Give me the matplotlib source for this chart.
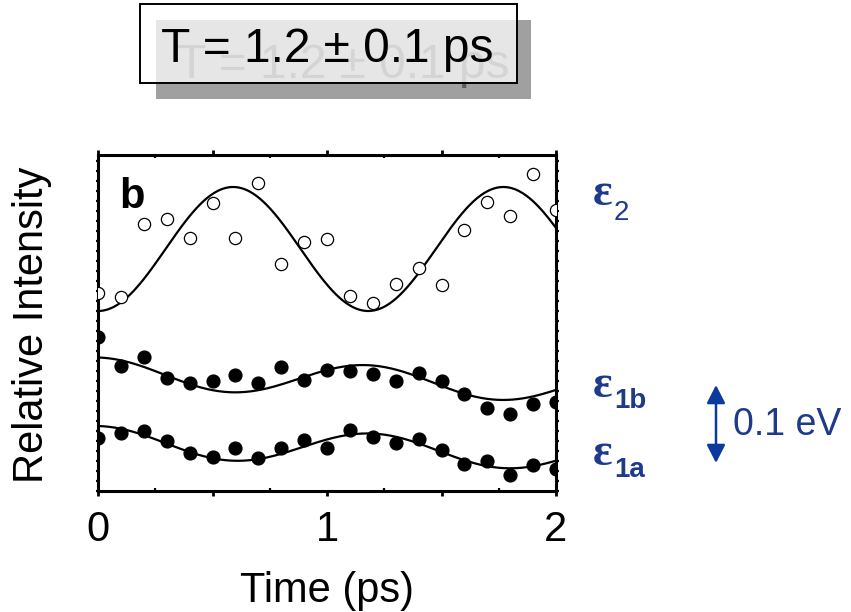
import numpy as np
import matplotlib
matplotlib.use("Agg")
import matplotlib.pyplot as plt
from matplotlib.patches import Rectangle, FancyArrowPatch
from matplotlib.ticker import MultipleLocator, FixedLocator

plt.rcParams['font.family'] = ['Liberation Sans', 'DejaVu Sans']

# ---------------- data ----------------
time_ps = [0.0, 0.1, 0.2, 0.3, 0.4, 0.5, 0.6, 0.7, 0.8, 0.9, 1.0,
           1.1, 1.2, 1.3, 1.4, 1.5, 1.6, 1.7, 1.8, 1.9, 2.0]

eps2 = [1.98, 1.94, 2.67, 2.72, 2.53, 2.88, 2.53, 3.08, 2.27, 2.49, 2.52,
        1.95, 1.88, 2.07, 2.23, 2.06, 2.61, 2.89, 2.75, 3.17, 2.81]

eps1b = [1.54, 1.25, 1.34, 1.13, 1.08, 1.10, 1.16, 1.08, 1.24, 1.11, 1.21,
         1.20, 1.17, 1.10, 1.18, 1.10, 0.97, 0.83, 0.77, 0.87, 0.89]

eps1a = [0.53, 0.58, 0.60, 0.50, 0.38, 0.34, 0.43, 0.33, 0.43, 0.51, 0.43,
         0.61, 0.54, 0.48, 0.52, 0.41, 0.27, 0.30, 0.16, 0.26, 0.22]

# fitted cosine models: offset, linear slope, amplitude, period (ps), time of maximum (ps)
fit_eps2 = [2.42, 0.0, 0.62, 1.18, 0.59]
fit_eps1b = [1.18, -0.065, 0.155, 1.17, 0.0]
fit_eps1a = [0.495, -0.063, 0.155, 1.19, 0.0]

xtick_major = [0.0, 0.5, 1.0, 1.5, 2.0]
xtick_labels = ['0', '', '1', '', '2']
title_text = "T = 1.2 \u00b1 0.1 ps"
x_label = "Time (ps)"
y_label = "Relative Intensity"

# ---------------- figure ----------------
W, H = 851, 612
fig = plt.figure(figsize=(W / 100, H / 100), dpi=100)


def P(x, y):
    return (x / W, 1 - y / H)


L, R, T, B = 98, 556, 155, 491
ax = fig.add_axes([L / W, 1 - B / H, (R - L) / W, (B - T) / H])


def model(p, t):
    off, slope, amp, per, tmax = p
    return off + slope * t + amp * np.cos(2 * np.pi * (t - tmax) / per)


tt = np.linspace(0, 2, 400)
for p in (fit_eps2, fit_eps1b, fit_eps1a):
    ax.plot(tt, model(p, tt), color='black', lw=1.6, zorder=2)

ax.plot(time_ps, eps2, 'o', ms=8.8, mfc='white', mec='black', mew=0.9, zorder=3)
ax.plot(time_ps, eps1b, 'o', ms=9.2, mfc='black', mec='black', zorder=3)
ax.plot(time_ps, eps1a, 'o', ms=9.2, mfc='black', mec='black', zorder=3)

ax.set_xlim(0, 2)
ax.set_ylim(0, 3.36)
ax.xaxis.set_major_locator(FixedLocator(xtick_major))
ax.set_xticklabels(xtick_labels)
ax.xaxis.set_minor_locator(FixedLocator([0.25, 0.75, 1.25, 1.75]))
ax.set_yticks([])
ax.yaxis.set_minor_locator(MultipleLocator(0.1))

for s in ax.spines.values():
    s.set_linewidth(2.2)

ax.tick_params(axis='x', which='major', direction='out', length=3.8, width=2.0,
               top=True, labelsize=30, pad=10)
ax.tick_params(axis='x', which='minor', direction='in', length=2.5, width=1.6, top=True)
ax.tick_params(axis='y', which='minor', direction='out', length=1.8, width=1.6,
               left=True, right=True)

ax.set_xlabel(x_label, fontsize=30)
ax.xaxis.set_label_coords(0.5, -0.238)
ax.set_ylabel(y_label, fontsize=30)
ax.yaxis.set_label_coords(-0.100, 0.494)

ax.text(0.046, 0.842, 'b', transform=ax.transAxes, fontsize=30, fontweight='bold',
        ha='left', va='baseline', zorder=5)

# ---------------- title box with shadow ----------------
fig.add_artist(Rectangle(P(156, 99), 375 / W, 79 / H, transform=fig.transFigure,
                         facecolor='#a0a0a0', edgecolor='none', zorder=1))
fig.text(*P(327 + 16, 62 + 16), title_text, fontsize=34.5, color='#5c5c5c',
         ha='center', va='baseline', zorder=2)
fig.add_artist(Rectangle(P(140, 83), 377 / W, 79 / H, transform=fig.transFigure,
                         facecolor=(1, 1, 1, 0.74), edgecolor='black', lw=1.4, zorder=3))
fig.text(*P(327, 62), title_text, fontsize=34.5, color='black',
         ha='center', va='baseline', zorder=4)

# ---------------- right-hand level labels ----------------
blue = '#1e3a8a'
serif = ['Liberation Serif', 'DejaVu Serif']
for (ex, ey, sub, sy, bold) in [(593, 205, '2', 220, False),
                                (593, 397, '1b', 408, True),
                                (593, 465, '1a', 477, True)]:
    fig.text(*P(ex, ey), '\u03b5', fontsize=33, fontweight='bold', family=serif,
             color=blue, ha='left', va='baseline')
    fig.text(*P(614, sy), sub, fontsize=20, fontweight='bold' if bold else 'normal',
             color=blue, ha='left', va='baseline')

arrow_color = '#0a3a9c'
fig.add_artist(FancyArrowPatch(P(716, 385), P(716, 463), transform=fig.transFigure,
                               arrowstyle='<|-|>,head_length=0.55,head_width=0.28',
                               mutation_scale=20, lw=1.8, color=arrow_color,
                               shrinkA=0, shrinkB=0))
fig.text(*P(733, 435), '0.1 eV', fontsize=27, color=blue, ha='left', va='baseline')

fig.savefig('out.png', dpi=100)
